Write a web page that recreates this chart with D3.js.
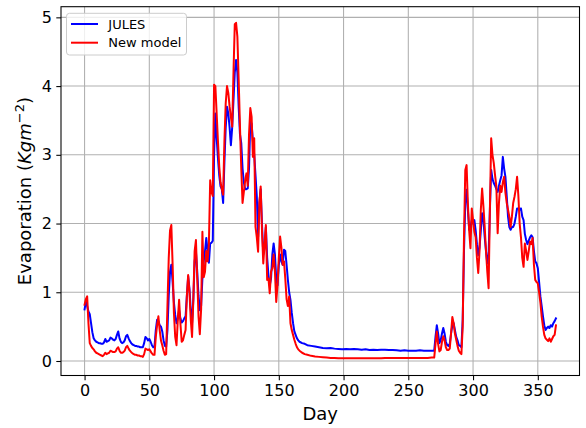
<!DOCTYPE html>
<html>
<head>
<meta charset="utf-8">
<script src="https://cdn.jsdelivr.net/npm/d3@7"></script>
<style>
  body { margin: 0; background: #fff; }
  svg { display: block; }
  text { font-family: "DejaVu Sans", sans-serif; fill: #000; }
</style>
</head>
<body>
<svg id="chart" width="586" height="428"></svg>
<script>
// Day of year: daily through the growing seasons, every few days across the flat winter stretch
const days = [
  ...d3.range(0, 167),
  168, 170, 172, 175, 178, 181, 184, 187, 190, 193, 196, 199, 202, 205, 208, 211, 214, 217,
  220, 223, 226, 229, 232, 235, 238, 241, 244, 247, 250, 253, 256, 259, 262, 265, 268,
  ...d3.range(269, 365)
];

// Daily evaporation (Kg m^-2), JULES
const jules = [
  0.75,0.86,0.80,0.72,0.68,0.55,0.42,0.33,0.30,0.28,
  0.27,0.26,0.26,0.25,0.25,0.27,0.32,0.28,0.29,0.30,
  0.34,0.33,0.31,0.30,0.32,0.38,0.43,0.33,0.28,0.26,
  0.27,0.30,0.36,0.38,0.33,0.29,0.26,0.24,0.23,0.22,
  0.22,0.21,0.21,0.20,0.20,0.20,0.26,0.35,0.33,0.30,
  0.32,0.28,0.23,0.20,0.21,0.45,0.60,0.58,0.52,0.50,
  0.43,0.30,0.22,0.21,0.45,0.95,1.30,1.40,1.15,0.85,
  0.67,0.55,0.62,0.74,0.62,0.56,0.58,0.62,0.65,0.95,
  1.23,1.05,0.75,0.55,0.90,1.45,1.59,1.30,0.95,0.74,
  0.80,1.20,1.45,1.60,1.79,1.60,1.43,1.71,1.72,1.75,
  3.00,3.60,3.25,2.95,2.70,2.54,2.50,2.30,2.90,3.40,
  3.70,3.60,3.40,3.14,3.40,3.80,4.20,4.38,4.20,3.70,
  3.30,3.17,2.80,2.60,2.50,2.50,2.51,2.80,3.50,3.45,
  3.20,3.00,2.70,2.40,1.80,2.30,2.50,2.00,1.55,1.65,
  1.95,1.50,1.25,1.10,1.20,1.55,1.71,1.55,1.20,1.10,
  1.40,1.55,1.45,1.40,1.62,1.60,1.40,1.18,1.00,0.89,
  0.70,0.55,0.43,0.38,0.33,0.30,0.28,
  0.26,0.25,0.23,0.22,0.21,0.20,0.19,0.185,0.19,0.18,0.175,0.17,0.175,0.17,0.175,0.17,0.165,0.17,
  0.16,0.165,0.16,0.165,0.165,0.16,0.16,0.155,0.15,0.155,0.15,0.15,0.15,0.155,0.15,0.15,0.15,
  0.15,0.15,0.35,0.52,0.40,0.26,0.30,0.40,0.48,0.40,
  0.28,0.23,0.22,0.25,0.40,0.52,0.55,0.45,0.35,0.30,
  0.23,0.22,0.20,0.60,1.60,2.30,2.49,2.20,1.91,1.95,
  2.05,2.00,2.05,1.90,1.70,1.54,1.65,1.90,2.15,2.05,
  1.80,1.60,1.42,1.55,2.20,2.78,2.65,2.59,2.55,2.50,
  2.46,2.55,2.63,2.70,2.97,2.80,2.68,2.40,2.10,1.95,
  1.91,1.95,1.95,2.00,2.10,2.22,2.22,2.20,2.22,2.10,
  2.05,1.85,1.76,1.70,1.75,1.80,1.83,1.80,1.60,1.45,
  1.42,1.35,1.15,0.94,0.80,0.65,0.52,0.45,0.48,0.50,
  0.48,0.52,0.50,0.55,0.58,0.62
];

// Daily evaporation (Kg m^-2), new model
const newModel = [
  0.82,0.90,0.94,0.55,0.26,0.22,0.19,0.17,0.14,0.12,
  0.11,0.10,0.09,0.08,0.07,0.09,0.12,0.10,0.11,0.12,
  0.15,0.14,0.13,0.13,0.14,0.18,0.20,0.15,0.12,0.12,
  0.13,0.15,0.20,0.22,0.18,0.15,0.13,0.11,0.10,0.09,
  0.09,0.08,0.08,0.07,0.07,0.06,0.10,0.18,0.17,0.16,
  0.17,0.14,0.11,0.09,0.09,0.35,0.52,0.65,0.45,0.30,
  0.23,0.15,0.09,0.10,0.80,1.50,1.90,1.98,1.40,0.70,
  0.35,0.23,0.60,0.89,0.55,0.28,0.30,0.38,0.45,0.95,
  1.25,1.00,0.60,0.35,0.90,1.60,1.76,1.20,0.65,0.39,
  0.75,1.88,1.22,1.30,1.60,1.45,1.70,2.63,2.46,2.40,
  4.02,4.00,3.60,3.20,2.83,2.60,2.50,2.42,3.20,3.75,
  4.00,3.90,3.70,3.55,3.41,4.20,4.90,4.92,4.72,4.10,
  3.41,2.80,2.30,2.46,2.62,2.73,2.55,3.30,3.68,3.55,
  2.97,3.24,1.95,1.80,1.59,2.30,2.54,1.90,1.42,1.70,
  1.98,1.18,1.20,0.985,1.30,1.35,1.55,1.30,0.86,1.10,
  1.50,1.81,1.65,1.40,1.45,1.20,0.90,0.80,0.94,0.55,
  0.45,0.38,0.31,0.25,0.20,0.17,0.15,
  0.12,0.10,0.09,0.075,0.065,0.06,0.055,0.05,0.045,0.045,0.04,0.04,0.04,0.04,0.04,0.04,0.04,0.04,
  0.04,0.04,0.04,0.04,0.045,0.045,0.045,0.045,0.045,0.045,0.045,0.045,0.045,0.045,0.045,0.045,0.05,
  0.05,0.05,0.25,0.43,0.25,0.14,0.16,0.28,0.36,0.30,
  0.20,0.16,0.16,0.18,0.40,0.64,0.55,0.40,0.31,0.22,
  0.15,0.12,0.10,0.50,1.80,2.78,2.85,2.30,1.90,1.64,
  2.22,2.05,1.88,1.80,1.50,1.28,1.60,2.20,2.51,2.25,
  1.95,1.60,1.30,1.06,2.20,3.24,3.00,2.88,2.70,2.54,
  1.86,2.30,2.55,2.46,2.60,2.68,2.45,2.30,2.20,2.10,
  1.95,2.10,2.30,2.39,2.50,2.68,2.40,2.00,1.80,1.50,
  1.37,1.71,1.60,1.47,1.60,1.74,1.70,1.79,1.40,1.18,
  1.15,1.13,1.00,0.85,0.645,0.50,0.38,0.33,0.31,0.29,
  0.33,0.28,0.32,0.36,0.38,0.52
];

const xTicks = [0, 50, 100, 150, 200, 250, 300, 350];
const yTicks = [0, 1, 2, 3, 4, 5];
const seriesNames = ["JULES", "New model"];
const seriesColors = ["#0000ff", "#ff0000"];

const svg = d3.select("#chart");
const plot = { left: 61, right: 579.5, top: 6.7, bottom: 375.5 };

const x = d3.scaleLinear().domain([-18.2, 382.2]).range([plot.left, plot.right]);
const y = d3.scaleLinear().domain([-0.211, 5.155]).range([plot.bottom, plot.top]);

// grid
const grid = svg.append("g").attr("stroke", "#b0b0b0").attr("stroke-width", 1.07);
grid.selectAll("line.gx").data(xTicks).join("line")
  .attr("x1", d => x(d)).attr("x2", d => x(d))
  .attr("y1", plot.top).attr("y2", plot.bottom);
grid.selectAll("line.gy").data(yTicks).join("line")
  .attr("x1", plot.left).attr("x2", plot.right)
  .attr("y1", d => y(d)).attr("y2", d => y(d));

// series lines
const series = [jules, newModel];
const line = d3.line().x(d => x(d[0])).y(d => y(d[1]));
series.forEach((vals, i) => {
  svg.append("path")
    .datum(days.map((d, k) => [d, vals[k]]))
    .attr("fill", "none")
    .attr("stroke", seriesColors[i])
    .attr("stroke-width", 2)
    .attr("stroke-linejoin", "round")
    .attr("stroke-linecap", "square")
    .attr("d", line);
});

// axes
const xAxis = d3.axisBottom(x).tickValues(xTicks).tickSize(4.7).tickPadding(4.5).tickFormat(d3.format("d"));
const yAxis = d3.axisLeft(y).tickValues(yTicks).tickSize(4.7).tickPadding(4.5).tickFormat(d3.format("d"));
const gx = svg.append("g").attr("transform", `translate(0,${plot.bottom})`).call(xAxis);
const gy = svg.append("g").attr("transform", `translate(${plot.left},0)`).call(yAxis);
[gx, gy].forEach(g => {
  g.select(".domain").remove();
  g.selectAll(".tick line").attr("stroke", "#000").attr("stroke-width", 1.07);
  g.selectAll(".tick text").attr("font-size", 16).attr("font-family", "DejaVu Sans").attr("fill", "#000");
});

// frame
svg.append("rect")
  .attr("x", plot.left).attr("y", plot.top)
  .attr("width", plot.right - plot.left).attr("height", plot.bottom - plot.top)
  .attr("fill", "none").attr("stroke", "#000").attr("stroke-width", 1.07);

// axis labels
svg.append("text")
  .attr("x", (plot.left + plot.right) / 2).attr("y", 420)
  .attr("text-anchor", "middle").attr("font-size", 18)
  .text("Day");

const yl = svg.append("text")
  .attr("transform", `translate(31,${(plot.top + plot.bottom) / 2}) rotate(-90)`)
  .attr("text-anchor", "middle").attr("font-size", 18);
yl.append("tspan").text("Evaporation (");
yl.append("tspan").attr("font-style", "italic").text("Kgm");
yl.append("tspan").attr("font-size", 13).attr("dy", -7.5).text("\u22122");
yl.append("tspan").attr("dy", 7.5).text(")");

// legend
const lg = svg.append("g");
lg.append("rect")
  .attr("x", 66.5).attr("y", 13.3).attr("width", 120).attr("height", 41.7)
  .attr("rx", 3).attr("fill", "#fff").attr("fill-opacity", 0.8)
  .attr("stroke", "#cccccc").attr("stroke-width", 1);
seriesNames.forEach((name, i) => {
  const yy = 24 + i * 18.7;
  lg.append("line").attr("x1", 71).attr("x2", 98).attr("y1", yy).attr("y2", yy)
    .attr("stroke", seriesColors[i]).attr("stroke-width", 2);
  lg.append("text").attr("x", 108.3).attr("y", yy + 4.6).attr("font-size", 13).text(name);
});
</script>
</body>
</html>
